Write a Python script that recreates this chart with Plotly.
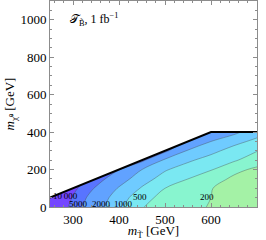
import numpy as np
import plotly.graph_objects as go

# stop mass (x) and neutralino mass (y) grid, GeV
m_stop = [250, 300, 350, 400, 450, 500, 550, 600, 650, 700]
m_chi = [0, 50, 100, 150, 200, 250, 300, 350, 400]

# values (rows: m_chi, cols: m_stop)
z_rows = [
    [25000, 7800, 2750, 1190, 517, 363, 261, 187, 135, 95],
    [30000, 9500, 3160, 1410, 648, 394, 281, 200, 145, 105],
    [35000, 12200, 4560, 1865, 939, 500, 333, 205, 155, 120],
    [45000, 18000, 7200, 2880, 1320, 771, 500, 272, 175, 150],
    [55000, 25000, 12000, 5200, 2000, 1065, 743, 534, 240, 175],
    [65000, 35000, 20000, 10000, 6000, 1732, 1104, 777, 567, 280],
    [75000, 45000, 28000, 15000, 9000, 6000, 1838, 1189, 783, 520],
    [85000, 55000, 36000, 20000, 12000, 8000, 4500, 2000, 1219, 850],
    [95000, 65000, 45000, 26000, 16000, 10000, 6000, 3000, 2400, 1300],
]

levels = [10, 200, 500, 1000, 2000, 5000, 10000]
band_colors = ["#a4f2a6", "#88f5cf", "#7ae8f2", "#6fcbff", "#61a2ff", "#5874ff", "#7446ff"]

level_labels = ["200", "500", "1000", "2000", "5000", "10\u2009000"]
label_x = [592, 445, 409, 362, 312, 284]
label_y = [55, 55, 17, 17, 17, 60]

# kinematic boundary
bound_x = [250, 600, 700]
bound_y = [50, 400, 400]

x_range = [250, 700]
y_range = [0, 1100]

logz = np.log10(np.array(z_rows, dtype=float))

fig = go.Figure()

for i, (lev, col) in enumerate(zip(levels, band_colors)):
    # constraint contours shade the region that fails the constraint,
    # so "<" shades where z >= level
    fig.add_trace(go.Contour(
        x=m_stop, y=m_chi, z=logz,
        contours=dict(type="constraint", operation="<", value=float(np.log10(lev))),
        fillcolor=col,
        line=dict(color="rgba(70,70,70,0.55)", width=0 if i == 0 else 0.7, smoothing=1),
        showscale=False, hoverinfo="skip", showlegend=False))

# white mask above the kinematic boundary
fig.add_trace(go.Scatter(
    x=bound_x + [x_range[1], x_range[1], x_range[0], x_range[0]],
    y=bound_y + [bound_y[-1], y_range[1], y_range[1], bound_y[0]],
    fill="toself", fillcolor="white", mode="lines",
    line=dict(width=0), hoverinfo="skip", showlegend=False))

fig.add_trace(go.Scatter(
    x=bound_x, y=bound_y, mode="lines",
    line=dict(color="black", width=2), hoverinfo="skip", showlegend=False))

for txt, lx, ly in zip(level_labels, label_x, label_y):
    fig.add_annotation(x=lx, y=ly, text=txt, showarrow=False,
                       font=dict(family="Liberation Serif", size=9, color="black"))

fig.add_annotation(x=289, y=1000, xanchor="left", yanchor="middle",
                   text="\U0001D4AF<sub>B\u0303</sub>, 1 fb<sup>\u22121</sup>",
                   showarrow=False,
                   font=dict(family="Liberation Serif", size=12, color="black"))

axis_common = dict(
    showgrid=False, zeroline=False, mirror="allticks", showline=True,
    linecolor="#8c8c8c", linewidth=1, ticks="inside", ticklen=4,
    tickcolor="#8c8c8c", tickfont=dict(family="Liberation Serif", size=13, color="black"),
)

fig.update_xaxes(range=x_range, tickvals=[300, 400, 500, 600, 700],
                 minor=dict(dtick=20, ticks="inside", ticklen=2, tickcolor="#8c8c8c"),
                 title=dict(text="<i>m</i><sub>T\u0303</sub> [GeV]", standoff=3,
                            font=dict(family="Liberation Serif", size=13, color="black")),
                 **axis_common)
fig.update_yaxes(range=y_range, tickvals=[0, 200, 400, 600, 800, 1000],
                 minor=dict(dtick=50, ticks="inside", ticklen=2, tickcolor="#8c8c8c"),
                 title=dict(text="<i>m</i><sub>\u03c7\u0303\u2070</sub> [GeV]", standoff=2,
                            font=dict(family="Liberation Serif", size=13, color="black")),
                 **axis_common)

fig.update_layout(
    width=266, height=240,
    margin=dict(l=50, r=9, t=1, b=33),
    paper_bgcolor="white", plot_bgcolor="white",
    showlegend=False,
)

fig.write_html("out.html", config={"displayModeBar": False},
               post_script="document.body.style.margin='0';")
